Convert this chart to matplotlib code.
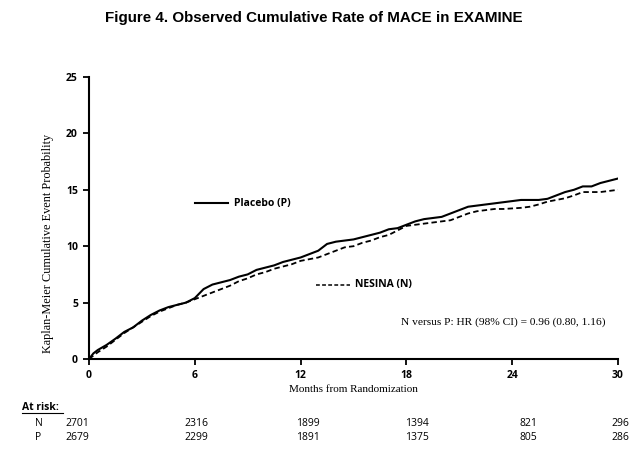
import matplotlib
matplotlib.use('Agg')
import matplotlib.pyplot as plt

# Kaplan-Meier curves (months, % event probability)
months = [0, 0.25, 0.5, 1, 1.5, 2, 2.5, 3, 3.5, 4, 4.5, 5, 5.5, 6, 6.5, 7, 7.5, 8,
          8.5, 9, 9.5, 10, 10.5, 11, 11.5, 12, 12.5, 13, 13.5, 14, 14.5, 15, 15.5,
          16, 16.5, 17, 17.5, 18, 18.5, 19, 19.5, 20, 20.5, 21, 21.5, 22, 22.5,
          23, 23.5, 24, 24.5, 25, 25.5, 26, 26.5, 27, 27.5, 28, 28.5, 29, 29.5, 30]
placebo = [0, 0.5, 0.8, 1.25, 1.8, 2.4, 2.8, 3.4, 3.9, 4.3, 4.6, 4.8, 5.0, 5.4,
           6.2, 6.6, 6.8, 7.0, 7.3, 7.5, 7.9, 8.1, 8.3, 8.6, 8.8, 9.0, 9.3, 9.6,
           10.2, 10.4, 10.5, 10.6, 10.8, 11.0, 11.2, 11.5, 11.6, 11.9, 12.2, 12.4,
           12.5, 12.6, 12.9, 13.2, 13.5, 13.6, 13.7, 13.8, 13.9, 14.0, 14.1, 14.1,
           14.1, 14.2, 14.5, 14.8, 15.0, 15.3, 15.3, 15.6, 15.8, 16.0]
nesina = [0, 0.3, 0.6, 1.1, 1.7, 2.3, 2.8, 3.3, 3.8, 4.2, 4.5, 4.8, 5.0, 5.3,
          5.6, 5.9, 6.2, 6.5, 6.9, 7.15, 7.5, 7.7, 8.0, 8.2, 8.4, 8.7, 8.85, 9.0,
          9.3, 9.6, 9.9, 10.0, 10.3, 10.5, 10.8, 11.0, 11.4, 11.8, 11.9, 12.0,
          12.1, 12.2, 12.3, 12.6, 12.9, 13.1, 13.2, 13.3, 13.3, 13.35, 13.4, 13.5,
          13.7, 13.95, 14.1, 14.25, 14.5, 14.8, 14.8, 14.8, 14.9, 15.0]

xticks = [0, 6, 12, 18, 24, 30]
yticks = [0, 5, 10, 15, 20, 25]
risk_n = ['2701', '2316', '1899', '1394', '821', '296']
risk_p = ['2679', '2299', '1891', '1375', '805', '286']
risk_x = [65, 184, 296, 405, 520, 611]  # left edge of each count, pixels

W, H = 633, 455
fig = plt.figure(figsize=(W / 100, H / 100), dpi=100)
ax = fig.add_axes([89 / W, 1 - 359 / H, (618 - 89) / W, (359 - 77) / H])

ax.plot(months, placebo, color='black', lw=1.5)
ax.plot(months, nesina, color='black', lw=1.3, ls=(0, (3, 1.8)))

ax.set_xlim(0, 30)
ax.set_ylim(0, 25)
ax.set_xticks(xticks)
ax.set_yticks(yticks)
for s in ['top', 'right']:
    ax.spines[s].set_visible(False)
for s in ['left', 'bottom']:
    ax.spines[s].set_linewidth(1.5)
ax.tick_params(direction='out', length=4, width=1.3, labelsize=7.5, pad=4)
for lab in ax.get_xticklabels() + ax.get_yticklabels():
    lab.set_fontweight('bold')
    lab.set_family('Open Sans')

serif = 'Liberation Serif'
ax.set_xlabel('Months from Randomization', family=serif, fontsize=8)
ax.xaxis.set_label_coords(0.5, -(390 - 359) / (359 - 77))
ax.xaxis.label.set_va('center')
ax.set_ylabel('Kaplan-Meier Cumulative Event Probability', family=serif,
              fontsize=8.8)
ax.yaxis.set_label_coords(-(89 - 48) / (618 - 89), (359 - 243) / (359 - 77))
ax.yaxis.label.set_va('center')

# legend drawn inline in the plot
ax.plot([6.0, 7.9], [13.8, 13.8], color='black', lw=1.5, clip_on=False)
ax.text(8.2, 13.8, 'Placebo (P)', fontsize=7.5, fontweight='bold',
        family='Open Sans', va='center')
ax.plot([12.9, 14.8], [6.6, 6.6], color='black', lw=1.1, ls=(0, (2.5, 1.5)))
ax.text(15.1, 6.6, 'NESINA (N)', fontsize=7.5, fontweight='bold',
        family='Open Sans', va='center')
ax.text(17.7, 3.25, 'N versus P: HR (98% CI) = 0.96 (0.80, 1.16)',
        family=serif, fontsize=8.2, va='center')

fig.text(0.495, 1 - 18 / H, 'Figure 4. Observed Cumulative Rate of MACE in EXAMINE',
         ha='center', va='center', fontsize=10.9, fontweight='bold',
         family='Liberation Sans')

# at-risk table
fig.text(22 / W, 1 - 407 / H, 'At risk:', fontsize=7.5, fontweight='bold',
         family='Open Sans', va='center')
fig.add_artist(plt.Line2D([22 / W, 63 / W], [1 - 413 / H, 1 - 413 / H],
                          color='black', lw=0.8))
fig.text(35 / W, 1 - 423 / H, 'N', fontsize=7.5, family='Open Sans', va='center')
fig.text(35 / W, 1 - 438 / H, 'P', fontsize=7.5, family='Open Sans', va='center')
for x, n, p in zip(risk_x, risk_n, risk_p):
    fig.text(x / W, 1 - 423 / H, n, fontsize=7.5, family='Open Sans', va='center')
    fig.text(x / W, 1 - 438 / H, p, fontsize=7.5, family='Open Sans', va='center')

fig.savefig('out.png', dpi=100)
